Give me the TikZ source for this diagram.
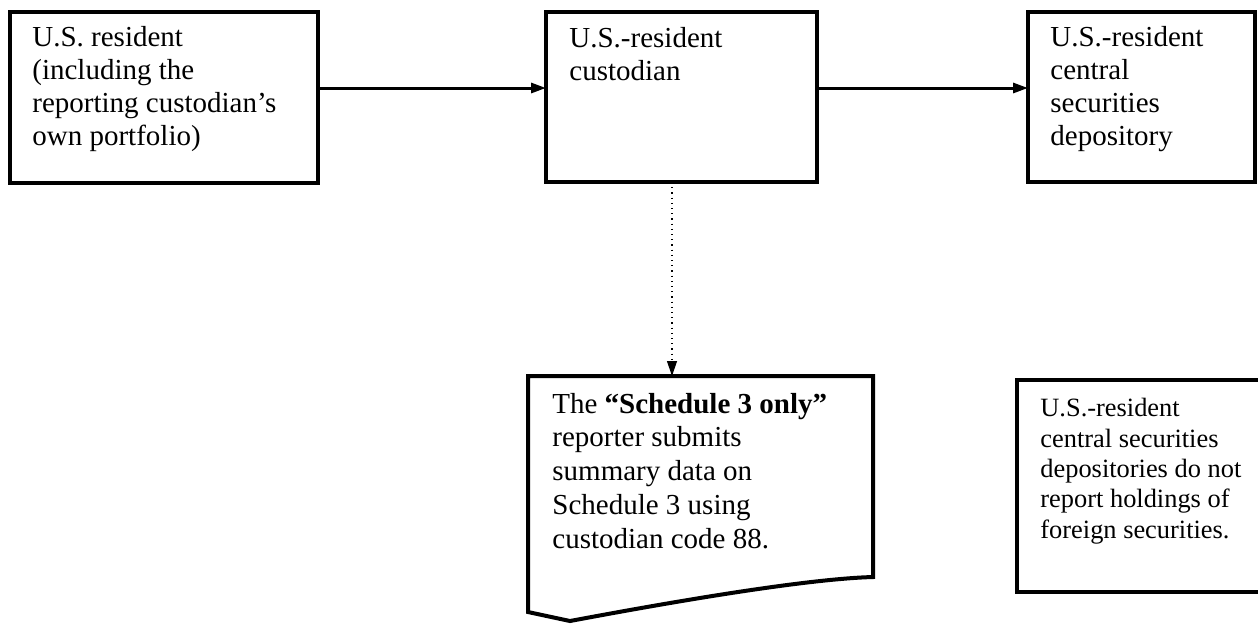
\documentclass[tikz,border=0pt]{standalone}
\usepackage{fontspec}
\setmainfont{Liberation Serif}
\usetikzlibrary{arrows.meta}
\begin{document}
\begin{tikzpicture}[x=0.5pt,y=-0.5pt,
  box/.style={draw,line width=2pt,rectangle,inner sep=0pt,outer sep=0pt},
  txt/.style={anchor=base west,inner sep=0pt,align=left,font=\fontsize{14.5}{16.35}\selectfont},
  doctxt/.style={anchor=base west,inner sep=0pt,align=left,font=\fontsize{14.5}{16.85}\selectfont},
  smalltxt/.style={anchor=base west,inner sep=0pt,align=left,font=\fontsize{13.2}{15.15}\selectfont},
  flow/.style={line width=1.5pt,-{Triangle[length=7.5pt,width=5pt]}},
  dots/.style={line width=0.6pt,dotted,-{Triangle[length=7.5pt,width=5pt]}}]
\fill[white] (0,0) rectangle (1258,623);
\useasboundingbox (0,0) rectangle (1258,623);
% boxes
\node[box,minimum width=154pt,minimum height=85.5pt] (A) at (164,97.5) {};
\node[box,minimum width=135.5pt,minimum height=85pt] (B) at (681.5,97) {};
\node[box,minimum width=113.5pt,minimum height=85pt] (C) at (1141.5,97) {};
\node[box,minimum width=122.5pt,minimum height=106pt] (D) at (1139.5,486) {};
% document shape
\draw[line width=2pt,line join=miter] (528,376) -- (873,376) -- (873,577)
  .. controls (800,579) and (650,606) .. (570,621) -- (528,612) -- cycle;
\coordinate (doctop) at (672,376);
% texts (anchored at the baseline of their last line)
\node[txt] (tA) at (32,145) {U.S. resident\\(including the\\reporting custodian’s\\own portfolio)};
\node[txt] (tB) at (569,80) {U.S.-resident\\custodian};
\node[txt] (tC) at (1050,145) {U.S.-resident\\central\\securities\\depository};
\node[doctxt] (tDoc) at (552,548) {The \textbf{“Schedule 3 only”}\\reporter submits\\summary data on\\Schedule 3 using\\custodian code 88.};
\node[smalltxt] (tD) at (1040,538) {U.S.-resident\\central securities\\depositories do not\\report holdings of\\foreign securities.};
% connectors
\draw[flow] ([yshift=4.75pt]A.east) -- ([yshift=4.5pt]B.west);
\draw[flow] ([yshift=4.5pt]B.east) -- ([yshift=4.5pt]C.west);
\draw[dots] (B.south -| doctop) -- (doctop);
\end{tikzpicture}
\end{document}
